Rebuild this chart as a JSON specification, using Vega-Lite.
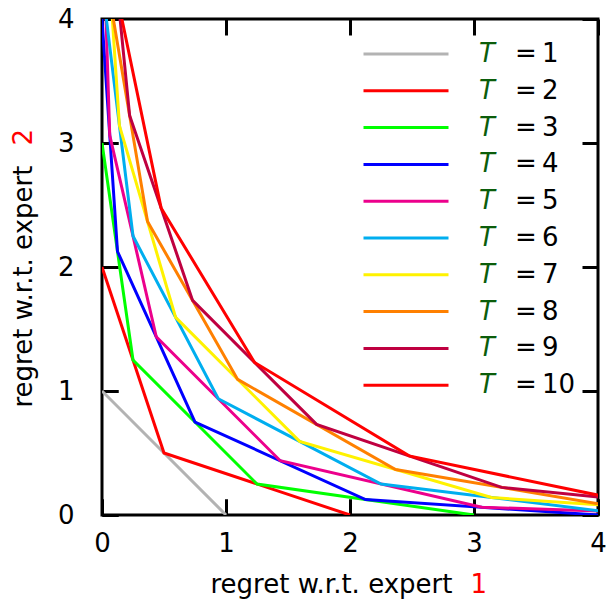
{
  "$schema": "https://vega.github.io/schema/vega-lite/v6.json",
  "width": 496,
  "height": 496,
  "autosize": {"type": "none"},
  "padding": {"left": 102, "top": 19, "right": 8, "bottom": 84},
  "config": {
    "font": "DejaVu Sans",
    "view": {"stroke": "black", "strokeWidth": 3},
    "axis": {
      "grid": false,
      "domain": false,
      "tickColor": "black",
      "tickWidth": 3,
      "tickSize": -16,
      "labelFont": "DejaVu Sans",
      "labelFontSize": 26,
      "labelColor": "black",
      "labelFlush": false,
      "labelOverlap": false,
      "titleFont": "DejaVu Sans",
      "titleFontSize": 26,
      "titleFontWeight": "normal",
      "titleColor": "black"
    }
  },
  "data": {
    "values": [
      {"T": 1, "x": 0, "y": 1}, {"T": 1, "x": 1, "y": 0},
      {"T": 2, "x": 0, "y": 2}, {"T": 2, "x": 0.5, "y": 0.5}, {"T": 2, "x": 2, "y": 0},
      {"T": 3, "x": 0, "y": 3}, {"T": 3, "x": 0.25, "y": 1.25}, {"T": 3, "x": 1.25, "y": 0.25}, {"T": 3, "x": 3, "y": 0},
      {"T": 4, "x": 0, "y": 4}, {"T": 4, "x": 0.125, "y": 2.125}, {"T": 4, "x": 0.75, "y": 0.75}, {"T": 4, "x": 2.125, "y": 0.125}, {"T": 4, "x": 4, "y": 0},
      {"T": 5, "x": 0, "y": 5}, {"T": 5, "x": 0.0625, "y": 3.0625}, {"T": 5, "x": 0.4375, "y": 1.4375}, {"T": 5, "x": 1.4375, "y": 0.4375}, {"T": 5, "x": 3.0625, "y": 0.0625}, {"T": 5, "x": 5, "y": 0},
      {"T": 6, "x": 0, "y": 6}, {"T": 6, "x": 0.03125, "y": 4.03125}, {"T": 6, "x": 0.25, "y": 2.25}, {"T": 6, "x": 0.9375, "y": 0.9375}, {"T": 6, "x": 2.25, "y": 0.25}, {"T": 6, "x": 4.03125, "y": 0.03125}, {"T": 6, "x": 6, "y": 0},
      {"T": 7, "x": 0, "y": 7}, {"T": 7, "x": 0.015625, "y": 5.015625}, {"T": 7, "x": 0.140625, "y": 3.140625}, {"T": 7, "x": 0.59375, "y": 1.59375}, {"T": 7, "x": 1.59375, "y": 0.59375}, {"T": 7, "x": 3.140625, "y": 0.140625}, {"T": 7, "x": 5.015625, "y": 0.015625}, {"T": 7, "x": 7, "y": 0},
      {"T": 8, "x": 0, "y": 8}, {"T": 8, "x": 0.0078125, "y": 6.0078125}, {"T": 8, "x": 0.078125, "y": 4.078125}, {"T": 8, "x": 0.3671875, "y": 2.3671875}, {"T": 8, "x": 1.09375, "y": 1.09375}, {"T": 8, "x": 2.3671875, "y": 0.3671875}, {"T": 8, "x": 4.078125, "y": 0.078125}, {"T": 8, "x": 6.0078125, "y": 0.0078125}, {"T": 8, "x": 8, "y": 0},
      {"T": 9, "x": 0, "y": 9}, {"T": 9, "x": 0.00390625, "y": 7.00390625}, {"T": 9, "x": 0.04296875, "y": 5.04296875}, {"T": 9, "x": 0.22265625, "y": 3.22265625}, {"T": 9, "x": 0.73046875, "y": 1.73046875}, {"T": 9, "x": 1.73046875, "y": 0.73046875}, {"T": 9, "x": 3.22265625, "y": 0.22265625}, {"T": 9, "x": 5.04296875, "y": 0.04296875}, {"T": 9, "x": 7.00390625, "y": 0.00390625}, {"T": 9, "x": 9, "y": 0},
      {"T": 10, "x": 0, "y": 10}, {"T": 10, "x": 0.001953125, "y": 8.001953125}, {"T": 10, "x": 0.0234375, "y": 6.0234375}, {"T": 10, "x": 0.1328125, "y": 4.1328125}, {"T": 10, "x": 0.4765625, "y": 2.4765625}, {"T": 10, "x": 1.23046875, "y": 1.23046875}, {"T": 10, "x": 2.4765625, "y": 0.4765625}, {"T": 10, "x": 4.1328125, "y": 0.1328125}, {"T": 10, "x": 6.0234375, "y": 0.0234375}, {"T": 10, "x": 8.001953125, "y": 0.001953125}, {"T": 10, "x": 10, "y": 0}
    ]
  },
  "layer": [
    {
      "transform": [{"filter": "datum.T == 1"}],
      "mark": {"type": "line", "clip": true},
      "encoding": {
        "x": {"field": "x", "type": "quantitative", "scale": {"domain": [0, 4], "nice": false, "zero": false},
          "axis": {"orient": "bottom", "values": [0, 1, 2, 3, 4], "labels": false, "title": "1", "titleColor": "#ff0000", "titleAlign": "left", "titleBaseline": "alphabetic", "titleX": 368, "titleY": 77}},
        "y": {"field": "y", "type": "quantitative", "scale": {"domain": [0, 4], "nice": false, "zero": false},
          "axis": {"orient": "left", "values": [0, 1, 2, 3, 4], "labels": false, "title": "2", "titleColor": "#ff0000", "titleAngle": -90, "titleAlign": "left", "titleBaseline": "alphabetic", "titleX": -71, "titleY": 126}},
        "color": {"field": "T", "type": "ordinal"},
        "strokeWidth": {"field": "T", "type": "ordinal"}
      }
    },
    {
      "transform": [{"filter": "datum.T >= 2 && datum.T <= 5"}],
      "mark": {"type": "line", "clip": true},
      "encoding": {
        "x": {"field": "x", "type": "quantitative", "scale": {"domain": [0, 4], "nice": false, "zero": false},
          "axis": {"orient": "bottom", "values": [0, 1, 2, 3, 4], "labelPadding": 31, "title": "regret w.r.t. expert", "titleAlign": "left", "titleBaseline": "alphabetic", "titleX": 108, "titleY": 77}},
        "y": {"field": "y", "type": "quantitative", "scale": {"domain": [0, 4], "nice": false, "zero": false},
          "axis": {"orient": "left", "values": [0, 1, 2, 3, 4], "labelPadding": 44, "title": "regret w.r.t. expert", "titleAngle": -90, "titleAlign": "left", "titleBaseline": "alphabetic", "titleX": -71, "titleY": 388}},
        "color": {"field": "T", "type": "ordinal",
          "scale": {"range": ["#b3b3b3", "#ff0000", "#00ff00", "#0000ff", "#ec008c", "#00aeef", "#fff200", "#ff8000", "#bf0040", "#ff0000"]},
          "legend": {"orient": "none", "legendX": 260, "legendY": 22, "title": null, "padding": 0, "symbolType": "stroke", "symbolSize": 7225, "symbolStrokeWidth": 3, "labelExpr": "'T'", "labelColor": "#0b5d0b", "labelFontStyle": "italic", "labelFont": "DejaVu Sans", "labelFontSize": 26, "labelOffset": 29, "clipHeight": 26, "rowPadding": 10.8}},
        "strokeWidth": {"field": "T", "type": "ordinal", "scale": {"range": [3, 3]},
          "legend": {"orient": "top-right", "offset": 22, "title": null, "padding": 0, "symbolOpacity": 0, "symbolSize": 1, "symbolStrokeWidth": 0, "labelExpr": "'=\u2009' + datum.label", "labelColor": "black", "labelFont": "DejaVu Sans", "labelFontSize": 26, "labelOffset": 0, "clipHeight": 26, "rowPadding": 10.8}}
      }
    },
    {
      "transform": [{"filter": "datum.T >= 6"}],
      "mark": {"type": "line", "clip": true},
      "encoding": {
        "x": {"field": "x", "type": "quantitative", "scale": {"domain": [0, 4], "nice": false, "zero": false},
          "axis": {"orient": "top", "values": [0, 1, 2, 3, 4], "labels": false, "title": null}},
        "y": {"field": "y", "type": "quantitative", "scale": {"domain": [0, 4], "nice": false, "zero": false},
          "axis": {"orient": "right", "values": [0, 1, 2, 3, 4], "labels": false, "title": null}},
        "color": {"field": "T", "type": "ordinal"},
        "strokeWidth": {"field": "T", "type": "ordinal"}
      }
    }
  ],
  "resolve": {"axis": {"x": "independent", "y": "independent"}}
}
